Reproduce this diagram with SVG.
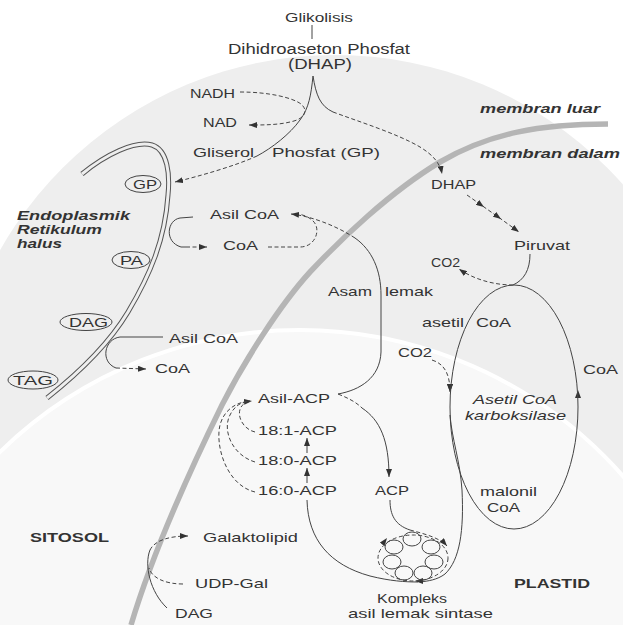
<svg xmlns="http://www.w3.org/2000/svg" width="623" height="625" viewBox="0 0 623 625">
<defs>
<style>
.t{font-family:"Liberation Sans",Arial,sans-serif;font-size:13px;fill:#333}
.s12{font-size:12px}
.s14{font-size:14px}
.b{font-weight:bold}
.i{font-style:italic}
.ln{fill:none;stroke:#444;stroke-width:1}
.dl{fill:none;stroke:#444;stroke-width:1;stroke-dasharray:4 2.5}
.nd{fill:none;stroke:#444;stroke-width:1}
.tick{fill:none;stroke:none}
</style>
<marker id="ah" viewBox="0 0 8 6" refX="8" refY="3" markerWidth="8" markerHeight="6" markerUnits="userSpaceOnUse" orient="auto">
<path d="M0,0 L8,3 L0,6 z" fill="#333"/>
</marker>
</defs>
<rect width="623" height="625" fill="#ffffff"/>
<g id="background">
<circle cx="335" cy="440" r="385" fill="#eeeeee"/>
<circle cx="300" cy="760" r="430" fill="#f8f8f8" stroke="#ffffff" stroke-width="4"/>
</g>
<g id="membrane-plastid">
<path d="M608,124 C540,124 490,133 440,162 C390,192 340,240 310,272 C280,305 245,360 222,405 C195,460 155,545 131,625" fill="none" stroke="#b5b5b5" stroke-width="5.5"/>
</g>
<g id="er-membrane">
<path d="M82,174 C105,155 135,140 152,145 C168,150 170,175 168,195 C165,240 150,275 128,312 C110,342 80,372 47,398" fill="none" stroke="#555" stroke-width="5"/>
<path d="M82,174 C105,155 135,140 152,145 C168,150 170,175 168,195 C165,240 150,275 128,312 C110,342 80,372 47,398" fill="none" stroke="#eeeeee" stroke-width="3"/>
</g>
<g id="connectors">
<path class="ln" d="M312,25 V39"/>
<path class="ln" d="M313,76 C311,95 309,108 300,120 C290,134 272,148 257,156"/>
<path class="dl" d="M257,156 C235,166 200,176 175,182" marker-end="url(#ah)"/>
<path class="ln" d="M313,76 C316,95 320,106 333,112"/>
<path class="dl" d="M333,112 C360,122 398,134 420,147 C433,155 440,163 442,174" marker-end="url(#ah)"/>
<path class="dl" d="M240,92 C270,92 293,98 301,104 C309,111 304,118 294,121 C280,125 265,125 249,125" marker-end="url(#ah)"/>
<path class="ln" d="M193,217 L180,218 C167,220 164,242 181,247 L186,247"/>
<path class="dl" d="M186,247 L207,247" marker-end="url(#ah)"/>
<path class="dl" d="M268,247 L300,247 C316,247 322,228 312,220 C306,215 300,214 294,214"/>
<path class="ln" d="M338,394 C360,390 380,378 381,352 L381,295 C381,270 372,250 355,238"/>
<path class="dl" d="M355,238 C335,225 310,216 291,214" marker-end="url(#ah)"/>
<path class="dl" d="M338,394 C348,398 356,402 362,408"/>
<path class="ln" d="M362,408 C380,420 389,440 389,477" marker-end="url(#ah)"/>
<path class="ln" d="M163,337 L120,337 C104,339 100,362 116,368"/>
<path class="dl" d="M116,368 L146,369" marker-end="url(#ah)"/>
<path class="ln" d="M307,453 L307,438" marker-end="url(#ah)"/>
<path class="ln" d="M307,483 L307,468" marker-end="url(#ah)"/>
<path class="dl" d="M255,432 C238,428 232,403 252,401" marker-end="url(#ah)"/>
<path class="dl" d="M255,462 C232,455 222,430 230,415 C235,405 242,402 250,401"/>
<path class="dl" d="M255,492 C226,485 215,445 220,425 C224,410 236,402 250,401"/>
<path class="ln" d="M307,500 C308,540 330,565 370,576 C390,581 405,582 418,582"/>
<path class="ln" d="M450,415 C452,440 460,460 462,490 C464,530 460,560 445,574 C437,580 428,581 420,582"/>
<path class="ln" d="M390,500 C390,515 395,525 410,530"/>
<path class="dl" d="M410,530 C425,534 440,538 447,546" marker-end="url(#ah)"/>
<path class="ln" d="M530,254 C530,270 524,280 513,285"/>
<path class="dl" d="M513,285 C495,285 475,280 459,269" marker-end="url(#ah)"/>
<path class="dl" d="M432,360 C445,364 450,375 450,392" marker-end="url(#ah)"/>
<path class="dl" d="M467,195 L484,207 L501,219 L519,232" marker-mid="url(#ah)" marker-end="url(#ah)"/>
<path class="tick" d="M450,385 L450,392" marker-end="url(#ah)"/>
<path class="tick" d="M578,398 L578,390" marker-end="url(#ah)"/>
<path class="tick" d="M425,581 L415,581" marker-end="url(#ah)"/>
<path class="tick" d="M381,546 L387,538" marker-end="url(#ah)"/>
<path class="ln" d="M167,608 C150,592 144,565 150,550"/>
<path class="dl" d="M150,550 C155,540 170,536 188,536" marker-end="url(#ah)"/>
<path class="dl" d="M183,584 C165,584 152,578 149,568"/>
</g>
<g id="glikolisis"><text class="t s12" x="285" y="22" textLength="68" lengthAdjust="spacingAndGlyphs">Glikolisis</text></g>
<g id="dhap-top">
<text class="t s14" x="228" y="54" textLength="182" lengthAdjust="spacingAndGlyphs">Dihidroaseton Phosfat</text>
<text class="t s14" x="288" y="69" textLength="64" lengthAdjust="spacingAndGlyphs">(DHAP)</text>
</g>
<g id="nadh"><text class="t" x="190" y="98" textLength="45" lengthAdjust="spacingAndGlyphs">NADH</text></g>
<g id="nad"><text class="t" x="203" y="127" textLength="34" lengthAdjust="spacingAndGlyphs">NAD</text></g>
<g id="gliserol-phosfat"><text class="t"><tspan x="193" y="157" textLength="61" lengthAdjust="spacingAndGlyphs">Gliserol</tspan><tspan x="272" y="157" textLength="108" lengthAdjust="spacingAndGlyphs">Phosfat (GP)</tspan></text></g>
<g id="er-label">
<text class="t b i" x="17" y="220" textLength="113" lengthAdjust="spacingAndGlyphs">Endoplasmik</text>
<text class="t b i" x="17" y="234" textLength="85" lengthAdjust="spacingAndGlyphs">Retikulum</text>
<text class="t b i" x="17" y="248" textLength="45" lengthAdjust="spacingAndGlyphs">halus</text>
</g>
<g id="gp"><ellipse class="nd" cx="143" cy="184" rx="18" ry="8.5"/><text class="t s12" x="133" y="189" textLength="24" lengthAdjust="spacingAndGlyphs">GP</text></g>
<g id="pa"><ellipse class="nd" cx="131" cy="260" rx="19" ry="8.5"/><text class="t s12" x="120" y="265" textLength="23" lengthAdjust="spacingAndGlyphs">PA</text></g>
<g id="dag-er"><ellipse class="nd" cx="86" cy="322" rx="26" ry="8.5"/><text class="t s12" x="69" y="327" textLength="39" lengthAdjust="spacingAndGlyphs">DAG</text></g>
<g id="tag"><ellipse class="nd" cx="33" cy="380" rx="25" ry="9"/><text class="t s12" x="13" y="385" textLength="40" lengthAdjust="spacingAndGlyphs">TAG</text></g>
<g id="asilcoa-1"><text class="t" x="210" y="219" textLength="69" lengthAdjust="spacingAndGlyphs">Asil CoA</text></g>
<g id="coa-1"><text class="t" x="223" y="250" textLength="35" lengthAdjust="spacingAndGlyphs">CoA</text></g>
<g id="asilcoa-2"><text class="t" x="169" y="343" textLength="69" lengthAdjust="spacingAndGlyphs">Asil CoA</text></g>
<g id="coa-2"><text class="t" x="155" y="373" textLength="35" lengthAdjust="spacingAndGlyphs">CoA</text></g>
<g id="asam-lemak"><text class="t"><tspan x="328" y="296" textLength="44" lengthAdjust="spacingAndGlyphs">Asam</tspan><tspan x="385" y="296" textLength="48" lengthAdjust="spacingAndGlyphs">lemak</tspan></text></g>
<g id="membran-labels">
<text class="t b i" x="480" y="113" textLength="120" lengthAdjust="spacingAndGlyphs">membran luar</text>
<text class="t b i" x="480" y="158" textLength="140" lengthAdjust="spacingAndGlyphs">membran dalam</text>
</g>
<g id="dhap-plastid"><text class="t" x="431" y="189" textLength="45" lengthAdjust="spacingAndGlyphs">DHAP</text></g>
<g id="piruvat"><text class="t" x="514" y="250" textLength="56" lengthAdjust="spacingAndGlyphs">Piruvat</text></g>
<g id="co2-1"><text class="t" x="431" y="267" textLength="29" lengthAdjust="spacingAndGlyphs">CO2</text></g>
<g id="asetil-coa"><text class="t"><tspan x="422" y="327" textLength="42" lengthAdjust="spacingAndGlyphs">asetil</tspan><tspan x="476" y="327" textLength="35" lengthAdjust="spacingAndGlyphs">CoA</tspan></text></g>
<g id="co2-2"><text class="t" x="398" y="357" textLength="34" lengthAdjust="spacingAndGlyphs">CO2</text></g>
<g id="coa-3"><text class="t" x="583" y="374" textLength="35" lengthAdjust="spacingAndGlyphs">CoA</text></g>
<g id="acc">
<ellipse class="nd" cx="514" cy="407" rx="64" ry="122"/>
<text class="t i" x="473" y="404" textLength="84" lengthAdjust="spacingAndGlyphs">Asetil CoA</text>
<text class="t i" x="465" y="420" textLength="101" lengthAdjust="spacingAndGlyphs">karboksilase</text>
</g>
<g id="malonil-coa">
<text class="t" x="480" y="496" textLength="57" lengthAdjust="spacingAndGlyphs">malonil</text>
<text class="t" x="487" y="512" textLength="33" lengthAdjust="spacingAndGlyphs">CoA</text>
</g>
<g id="asil-acp"><text class="t" x="258" y="403" textLength="72" lengthAdjust="spacingAndGlyphs">Asil-ACP</text></g>
<g id="acp181"><text class="t" x="258" y="435" textLength="79" lengthAdjust="spacingAndGlyphs">18:1-ACP</text></g>
<g id="acp180"><text class="t" x="258" y="465" textLength="79" lengthAdjust="spacingAndGlyphs">18:0-ACP</text></g>
<g id="acp160"><text class="t" x="258" y="495" textLength="79" lengthAdjust="spacingAndGlyphs">16:0-ACP</text></g>
<g id="acp"><text class="t" x="375" y="495" textLength="34" lengthAdjust="spacingAndGlyphs">ACP</text></g>
<g id="kompleks">
<ellipse class="dl" cx="413" cy="558" rx="35" ry="23"/>
<ellipse class="nd" cx="412" cy="539" rx="9" ry="7"/>
<ellipse class="nd" cx="394" cy="547" rx="9" ry="7"/>
<ellipse class="nd" cx="431" cy="547" rx="9" ry="7"/>
<ellipse class="nd" cx="392" cy="562" rx="9" ry="7"/>
<ellipse class="nd" cx="434" cy="562" rx="9" ry="7"/>
<ellipse class="nd" cx="404" cy="573" rx="9" ry="7"/>
<ellipse class="nd" cx="423" cy="573" rx="9" ry="7"/>
<text class="t" x="377" y="603" textLength="70" lengthAdjust="spacingAndGlyphs">Kompleks</text>
<text class="t" x="348" y="618" textLength="145" lengthAdjust="spacingAndGlyphs">asil lemak sintase</text>
</g>
<g id="sitosol"><text class="t b" x="30" y="542" textLength="79" lengthAdjust="spacingAndGlyphs">SITOSOL</text></g>
<g id="plastid"><text class="t b" x="514" y="588" textLength="76" lengthAdjust="spacingAndGlyphs">PLASTID</text></g>
<g id="galaktolipid"><text class="t" x="203" y="542" textLength="95" lengthAdjust="spacingAndGlyphs">Galaktolipid</text></g>
<g id="udp-gal"><text class="t" x="195" y="588" textLength="73" lengthAdjust="spacingAndGlyphs">UDP-Gal</text></g>
<g id="dag-cyt"><text class="t" x="175" y="618" textLength="38" lengthAdjust="spacingAndGlyphs">DAG</text></g>
</svg>
